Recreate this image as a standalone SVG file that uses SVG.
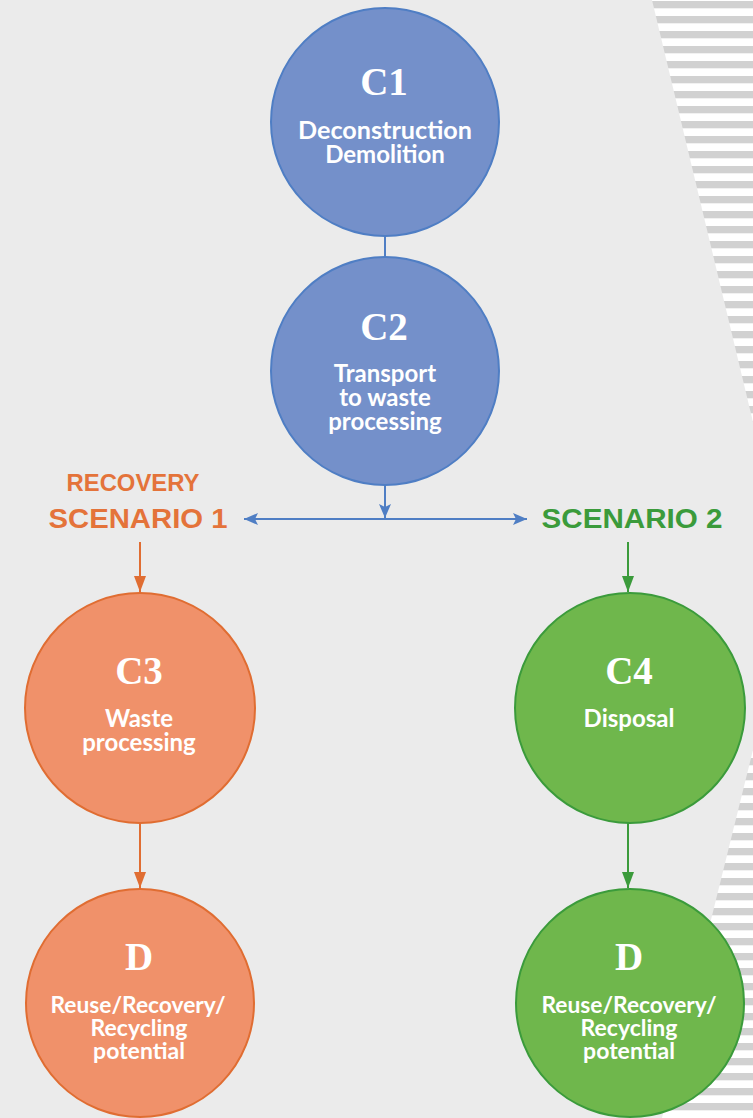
<svg xmlns="http://www.w3.org/2000/svg" width="753" height="1118" viewBox="0 0 753 1118">
<style>
.title{font-family:"Liberation Serif",serif;font-weight:bold;font-size:39px;fill:#ffffff;text-anchor:middle}
.body{font-family:Lato,"Open Sans",sans-serif;font-weight:bold;font-size:24px;fill:#ffffff;text-anchor:middle}
.small{font-size:23px}
.scen{font-family:"Liberation Sans",Arial,sans-serif;font-weight:bold;text-anchor:middle}
.blue{fill:#7490ca;stroke:#4f7ec4;stroke-width:2}
.orange{fill:#f0916a;stroke:#e06d32;stroke-width:2}
.green{fill:#6fb74c;stroke:#3b9b3b;stroke-width:2}
</style>
<defs>
<pattern id="stripesTop" patternUnits="userSpaceOnUse" x="0" y="1" width="20" height="15">
<rect width="20" height="15" fill="#ffffff"/>
<rect width="20" height="7.3" fill="#d1d1d1"/>
</pattern>
<pattern id="stripesBot" patternUnits="userSpaceOnUse" x="0" y="8" width="20" height="15">
<rect width="20" height="15" fill="#ffffff"/>
<rect width="20" height="7.3" fill="#d1d1d1"/>
</pattern>
<marker id="ahBlue" viewBox="0 0 14 12" refX="14" refY="6" markerWidth="14" markerHeight="12" markerUnits="userSpaceOnUse" orient="auto">
<path d="M0,0 L14,6 L0,12 L3,6 Z" fill="#4f7ec4"/>
</marker>
<marker id="ahOrange" viewBox="0 0 16 12" refX="16" refY="6" markerWidth="16" markerHeight="12" markerUnits="userSpaceOnUse" orient="auto">
<path d="M0,0 L16,6 L0,12 Z" fill="#e06d32"/>
</marker>
<marker id="ahGreen" viewBox="0 0 16 12" refX="16" refY="6" markerWidth="16" markerHeight="12" markerUnits="userSpaceOnUse" orient="auto">
<path d="M0,0 L16,6 L0,12 Z" fill="#3b9b3b"/>
</marker>
</defs>
<rect width="753" height="1118" fill="#ebebeb"/>
<polygon points="652,0 753,0 753,422" fill="url(#stripesTop)"/>
<polygon points="753,750 753,1118 662,1118" fill="url(#stripesBot)"/>

<g id="connectors" fill="none" stroke-width="2">
<line x1="385" y1="235" x2="385" y2="257" stroke="#4f7ec4"/>
<line x1="385" y1="486" x2="385" y2="518" stroke="#4f7ec4" marker-end="url(#ahBlue)"/>
<line x1="300" y1="519" x2="244" y2="519" stroke="#4f7ec4" marker-end="url(#ahBlue)"/>
<line x1="290" y1="519" x2="527" y2="519" stroke="#4f7ec4" marker-end="url(#ahBlue)"/>
<line x1="140" y1="542" x2="140" y2="592" stroke="#e06d32" marker-end="url(#ahOrange)"/>
<line x1="140" y1="823" x2="140" y2="888" stroke="#e06d32" marker-end="url(#ahOrange)"/>
<line x1="628" y1="542" x2="628" y2="592" stroke="#3b9b3b" marker-end="url(#ahGreen)"/>
<line x1="628" y1="823" x2="628" y2="888" stroke="#3b9b3b" marker-end="url(#ahGreen)"/>
</g>

<g id="label-scenario1">
<text class="scen" x="133" y="491" font-size="23" fill="#e4733a" textLength="133" lengthAdjust="spacingAndGlyphs">RECOVERY</text>
<text class="scen" x="138" y="528" font-size="27" fill="#e4733a" textLength="179" lengthAdjust="spacingAndGlyphs">SCENARIO 1</text>
</g>
<g id="label-scenario2">
<text class="scen" x="632" y="528" font-size="27" fill="#3b9b3b" textLength="181" lengthAdjust="spacingAndGlyphs">SCENARIO 2</text>
</g>

<g id="node-c1">
<circle class="blue" cx="385" cy="122" r="114"/>
<text class="title" x="384" y="95">C1</text>
<text class="body" x="385" y="139" textLength="174" lengthAdjust="spacingAndGlyphs">Deconstruction</text>
<text class="body" x="385" y="163">Demolition</text>
</g>
<g id="node-c2">
<circle class="blue" cx="385" cy="371" r="114"/>
<text class="title" x="384" y="340">C2</text>
<text class="body" x="385" y="382">Transport</text>
<text class="body" x="385" y="406">to waste</text>
<text class="body" x="385" y="430">processing</text>
</g>
<g id="node-c3">
<circle class="orange" cx="140" cy="708" r="115"/>
<text class="title" x="139" y="684">C3</text>
<text class="body" x="139" y="727">Waste</text>
<text class="body" x="139" y="751">processing</text>
</g>
<g id="node-d1">
<circle class="orange" cx="140" cy="1003" r="114"/>
<text class="title" x="139" y="970">D</text>
<text class="body small" x="138" y="1013" textLength="175" lengthAdjust="spacingAndGlyphs">Reuse/Recovery/</text>
<text class="body small" x="139" y="1036">Recycling</text>
<text class="body small" x="139" y="1059">potential</text>
</g>
<g id="node-c4">
<circle class="green" cx="630" cy="708" r="115"/>
<text class="title" x="629" y="684">C4</text>
<text class="body" x="629" y="727">Disposal</text>
</g>
<g id="node-d2">
<circle class="green" cx="630" cy="1003" r="114"/>
<text class="title" x="629" y="970">D</text>
<text class="body small" x="629" y="1013" textLength="175" lengthAdjust="spacingAndGlyphs">Reuse/Recovery/</text>
<text class="body small" x="629" y="1036">Recycling</text>
<text class="body small" x="629" y="1059">potential</text>
</g>
</svg>
